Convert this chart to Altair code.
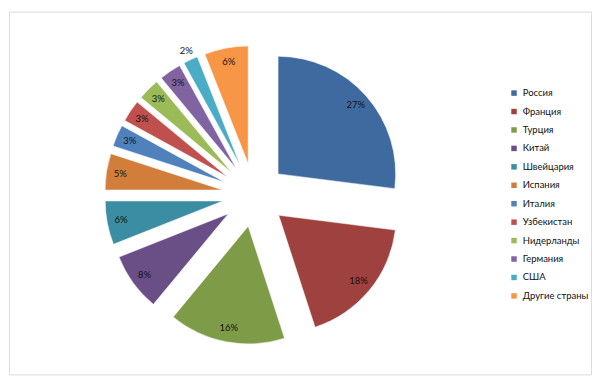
import altair as alt
import pandas as pd

countries = ["Россия", "Франция", "Турция", "Китай", "Швейцария", "Испания",
             "Италия", "Узбекистан", "Нидерланды", "Германия", "США", "Другие страны"]
shares = [27, 18, 16, 8, 6, 5, 3, 3, 3, 3, 2, 6]
colors = ["#3F6A9F", "#9F413E", "#7E9B47", "#6A4F87", "#3A8DA2", "#D27E3A",
          "#4F81BD", "#C0504D", "#9BBB59", "#8064A2", "#4BACC6", "#F79646"]

df = pd.DataFrame({"country": countries, "share": shares, "order": list(range(len(countries)))})

W, H = 584, 364
CX, CY = 246, 184
R = 118
EXPLODE = 32

base = alt.Chart(df).transform_window(
    cum="sum(share)", sort=[alt.SortField("order")], frame=[None, 0]
).transform_calculate(
    t0="datum.cum - datum.share",
    t1="datum.cum",
    mid="(datum.cum - datum.share / 2) / 100 * 2 * PI",
).transform_calculate(
    ex=f"{EXPLODE} * sin(datum.mid)",
    ey=f"{EXPLODE} * cos(datum.mid)",
    lr=f"datum.share < 2.5 ? {R + 10} : {R - 14}",
    label="datum.share + '%'",
).transform_calculate(
    lx="datum.ex + datum.lr * sin(datum.mid)",
    ly="datum.ey + datum.lr * cos(datum.mid)",
)

xs = alt.Scale(domain=[-CX, W - CX])
ys = alt.Scale(domain=[-(H - CY), CY])

arcs = base.mark_arc(outerRadius=R, stroke="white", strokeWidth=0.5).encode(
    x=alt.X("ex:Q", scale=xs, axis=None),
    y=alt.Y("ey:Q", scale=ys, axis=None),
    theta=alt.Theta("t0:Q", scale=alt.Scale(domain=[0, 100], range=[0, 6.283185307]), stack=None),
    theta2="t1:Q",
    color=alt.Color(
        "country:N",
        scale=alt.Scale(domain=countries, range=colors),
        sort=countries,
        legend=alt.Legend(
            title=None, orient="none", legendX=502, legendY=77,
            symbolType="square", symbolSize=30, symbolStrokeWidth=0,
            labelFont="Lato", labelFontSize=9.5, labelColor="#111111",
            rowPadding=7.5, labelOffset=4,
        ),
    ),
    order=alt.Order("order:Q"),
)

labels = base.mark_text(font="Lato", fontSize=9.5, color="#111111").encode(
    x=alt.X("lx:Q", scale=xs, axis=None),
    y=alt.Y("ly:Q", scale=ys, axis=None),
    text="label:N",
)

chart = alt.layer(arcs, labels).properties(
    width=W, height=H,
    autosize=alt.AutoSizeParams(type="none"),
    padding={"left": 1, "top": 3, "right": 1, "bottom": 1},
).configure_view(stroke="#A0A0A0", strokeWidth=1.2).configure(background="white")

chart.save("out.html", embed_options={"renderer": "svg", "actions": False})
